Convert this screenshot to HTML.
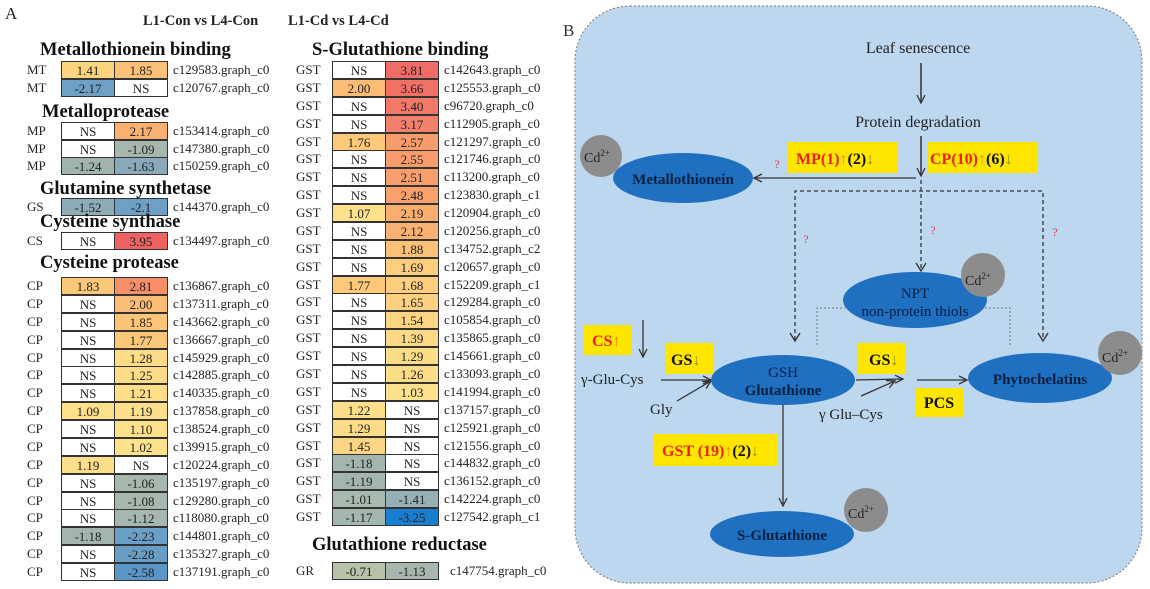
<!DOCTYPE html>
<html><head><meta charset="utf-8"><style>
body{margin:0;width:1150px;height:589px;background:#fff;position:relative;overflow:hidden;font-family:"Liberation Serif",serif;color:#222}
.t{position:absolute;white-space:nowrap}
.h{position:absolute;font-weight:bold;font-size:18.5px;line-height:18px;white-space:nowrap;color:#111}
.r{position:absolute;height:18px;display:flex;font-size:13px;line-height:18px}
.r span{display:block;box-sizing:border-box}
.l{width:34px}
.c{width:54px;text-align:center;border:1px solid #333;margin-right:-1px;background:#fff}
.id{padding-left:6px;color:#222}
.Bt .l{width:36px}
</style></head><body>
<div class="t" style="left:5px;top:4px;font-size:17px">A</div>
<div class="t" style="left:143px;top:13px;font-size:14.5px;font-weight:bold">L1-Con vs L4-Con</div>
<div class="t" style="left:288px;top:13px;font-size:14.5px;font-weight:bold">L1-Cd vs L4-Cd</div>

<div class="h" style="left:40px;top:41px">Metallothionein binding</div>
<div class="r" style="left:27px;top:61px"><span class="l">MT</span><span class="c" style="background:#fcd47e">1.41</span><span class="c" style="background:#fbc178">1.85</span><span class="id">c129583.graph_c0</span></div>
<div class="r" style="left:27px;top:78.5px"><span class="l">MT</span><span class="c" style="background:#6e9fc4">-2.17</span><span class="c">NS</span><span class="id">c120767.graph_c0</span></div>

<div class="h" style="left:42px;top:103px">Metalloprotease</div>
<div class="r" style="left:27px;top:122px"><span class="l">MP</span><span class="c">NS</span><span class="c" style="background:#f9b070">2.17</span><span class="id">c153414.graph_c0</span></div>
<div class="r" style="left:27px;top:139.5px"><span class="l">MP</span><span class="c">NS</span><span class="c" style="background:#a6b7ae">-1.09</span><span class="id">c147380.graph_c0</span></div>
<div class="r" style="left:27px;top:157px"><span class="l">MP</span><span class="c" style="background:#a0b4ae">-1.24</span><span class="c" style="background:#8aaabb">-1.63</span><span class="id">c150259.graph_c0</span></div>

<div class="h" style="left:40px;top:180px">Glutamine synthetase</div>
<div class="r" style="left:27px;top:198px"><span class="l">GS</span><span class="c" style="background:#8eabb8">-1.52</span><span class="c" style="background:#6e9fc4">-2.1</span><span class="id">c144370.graph_c0</span></div>
<div class="h" style="left:40px;top:213px">Cysteine synthase</div>
<div class="r" style="left:27px;top:232px"><span class="l">CS</span><span class="c">NS</span><span class="c" style="background:#ee6262">3.95</span><span class="id">c134497.graph_c0</span></div>
<div class="h" style="left:40px;top:254px">Cysteine protease</div>

<div class="r" style="left:27px;top:277px"><span class="l">CP</span><span class="c" style="background:#fbc87a">1.83</span><span class="c" style="background:#f68f68">2.81</span><span class="id">c136867.graph_c0</span></div>
<div class="r" style="left:27px;top:294.9px"><span class="l">CP</span><span class="c">NS</span><span class="c" style="background:#fbbd76">2.00</span><span class="id">c137311.graph_c0</span></div>
<div class="r" style="left:27px;top:312.8px"><span class="l">CP</span><span class="c">NS</span><span class="c" style="background:#fbc478">1.85</span><span class="id">c143662.graph_c0</span></div>
<div class="r" style="left:27px;top:330.6px"><span class="l">CP</span><span class="c">NS</span><span class="c" style="background:#fbc87a">1.77</span><span class="id">c136667.graph_c0</span></div>
<div class="r" style="left:27px;top:348.5px"><span class="l">CP</span><span class="c">NS</span><span class="c" style="background:#fddc88">1.28</span><span class="id">c145929.graph_c0</span></div>
<div class="r" style="left:27px;top:366.4px"><span class="l">CP</span><span class="c">NS</span><span class="c" style="background:#fddc88">1.25</span><span class="id">c142885.graph_c0</span></div>
<div class="r" style="left:27px;top:384.3px"><span class="l">CP</span><span class="c">NS</span><span class="c" style="background:#fdde8a">1.21</span><span class="id">c140335.graph_c0</span></div>
<div class="r" style="left:27px;top:402.2px"><span class="l">CP</span><span class="c" style="background:#fde08c">1.09</span><span class="c" style="background:#fdde8a">1.19</span><span class="id">c137858.graph_c0</span></div>
<div class="r" style="left:27px;top:420px"><span class="l">CP</span><span class="c">NS</span><span class="c" style="background:#fde08c">1.10</span><span class="id">c138524.graph_c0</span></div>
<div class="r" style="left:27px;top:437.9px"><span class="l">CP</span><span class="c">NS</span><span class="c" style="background:#fde28e">1.02</span><span class="id">c139915.graph_c0</span></div>
<div class="r" style="left:27px;top:455.8px"><span class="l">CP</span><span class="c" style="background:#fdde8a">1.19</span><span class="c">NS</span><span class="id">c120224.graph_c0</span></div>
<div class="r" style="left:27px;top:473.7px"><span class="l">CP</span><span class="c">NS</span><span class="c" style="background:#a7b8ae">-1.06</span><span class="id">c135197.graph_c0</span></div>
<div class="r" style="left:27px;top:491.6px"><span class="l">CP</span><span class="c">NS</span><span class="c" style="background:#a7b8ae">-1.08</span><span class="id">c129280.graph_c0</span></div>
<div class="r" style="left:27px;top:509.4px"><span class="l">CP</span><span class="c">NS</span><span class="c" style="background:#a5b7ae">-1.12</span><span class="id">c118080.graph_c0</span></div>
<div class="r" style="left:27px;top:527.3px"><span class="l">CP</span><span class="c" style="background:#a3b6ae">-1.18</span><span class="c" style="background:#6a9fc6">-2.23</span><span class="id">c144801.graph_c0</span></div>
<div class="r" style="left:27px;top:545.2px"><span class="l">CP</span><span class="c">NS</span><span class="c" style="background:#689dc6">-2.28</span><span class="id">c135327.graph_c0</span></div>
<div class="r" style="left:27px;top:563.1px"><span class="l">CP</span><span class="c">NS</span><span class="c" style="background:#5a97c8">-2.58</span><span class="id">c137191.graph_c0</span></div>

<div class="h" style="left:312px;top:41px">S-Glutathione binding</div>
<div class="r Bt" style="left:296px;top:61px"><span class="l">GST</span><span class="c">NS</span><span class="c" style="background:#f06c66">3.81</span><span class="id">c142643.graph_c0</span></div>
<div class="r Bt" style="left:296px;top:78.9px"><span class="l">GST</span><span class="c" style="background:#fbbd76">2.00</span><span class="c" style="background:#f07066">3.66</span><span class="id">c125553.graph_c0</span></div>
<div class="r Bt" style="left:296px;top:96.8px"><span class="l">GST</span><span class="c">NS</span><span class="c" style="background:#f27868">3.40</span><span class="id">c96720.graph_c0</span></div>
<div class="r Bt" style="left:296px;top:114.6px"><span class="l">GST</span><span class="c">NS</span><span class="c" style="background:#f3806a">3.17</span><span class="id">c112905.graph_c0</span></div>
<div class="r Bt" style="left:296px;top:132.5px"><span class="l">GST</span><span class="c" style="background:#fcc87a">1.76</span><span class="c" style="background:#f89c6c">2.57</span><span class="id">c121297.graph_c0</span></div>
<div class="r Bt" style="left:296px;top:150.4px"><span class="l">GST</span><span class="c">NS</span><span class="c" style="background:#f89c6c">2.55</span><span class="id">c121746.graph_c0</span></div>
<div class="r Bt" style="left:296px;top:168.3px"><span class="l">GST</span><span class="c">NS</span><span class="c" style="background:#f89e6c">2.51</span><span class="id">c113200.graph_c0</span></div>
<div class="r Bt" style="left:296px;top:186.2px"><span class="l">GST</span><span class="c">NS</span><span class="c" style="background:#f9a06c">2.48</span><span class="id">c123830.graph_c1</span></div>
<div class="r Bt" style="left:296px;top:204px"><span class="l">GST</span><span class="c" style="background:#fde28e">1.07</span><span class="c" style="background:#f9ae70">2.19</span><span class="id">c120904.graph_c0</span></div>
<div class="r Bt" style="left:296px;top:221.9px"><span class="l">GST</span><span class="c">NS</span><span class="c" style="background:#f9b272">2.12</span><span class="id">c120256.graph_c0</span></div>
<div class="r Bt" style="left:296px;top:239.8px"><span class="l">GST</span><span class="c">NS</span><span class="c" style="background:#fbc278">1.88</span><span class="id">c134752.graph_c2</span></div>
<div class="r Bt" style="left:296px;top:257.7px"><span class="l">GST</span><span class="c">NS</span><span class="c" style="background:#fcce7e">1.69</span><span class="id">c120657.graph_c0</span></div>
<div class="r Bt" style="left:296px;top:275.6px"><span class="l">GST</span><span class="c" style="background:#fcc87a">1.77</span><span class="c" style="background:#fcce7e">1.68</span><span class="id">c152209.graph_c1</span></div>
<div class="r Bt" style="left:296px;top:293.4px"><span class="l">GST</span><span class="c">NS</span><span class="c" style="background:#fcd080">1.65</span><span class="id">c129284.graph_c0</span></div>
<div class="r Bt" style="left:296px;top:311.3px"><span class="l">GST</span><span class="c">NS</span><span class="c" style="background:#fcd482">1.54</span><span class="id">c105854.graph_c0</span></div>
<div class="r Bt" style="left:296px;top:329.2px"><span class="l">GST</span><span class="c">NS</span><span class="c" style="background:#fdd886">1.39</span><span class="id">c135865.graph_c0</span></div>
<div class="r Bt" style="left:296px;top:347.1px"><span class="l">GST</span><span class="c">NS</span><span class="c" style="background:#fddc88">1.29</span><span class="id">c145661.graph_c0</span></div>
<div class="r Bt" style="left:296px;top:365px"><span class="l">GST</span><span class="c">NS</span><span class="c" style="background:#fddc88">1.26</span><span class="id">c133093.graph_c0</span></div>
<div class="r Bt" style="left:296px;top:382.8px"><span class="l">GST</span><span class="c">NS</span><span class="c" style="background:#fde28e">1.03</span><span class="id">c141994.graph_c0</span></div>
<div class="r Bt" style="left:296px;top:400.7px"><span class="l">GST</span><span class="c" style="background:#fdde8a">1.22</span><span class="c">NS</span><span class="id">c137157.graph_c0</span></div>
<div class="r Bt" style="left:296px;top:418.6px"><span class="l">GST</span><span class="c" style="background:#fddc88">1.29</span><span class="c">NS</span><span class="id">c125921.graph_c0</span></div>
<div class="r Bt" style="left:296px;top:436.5px"><span class="l">GST</span><span class="c" style="background:#fcd684">1.45</span><span class="c">NS</span><span class="id">c121556.graph_c0</span></div>
<div class="r Bt" style="left:296px;top:454.4px"><span class="l">GST</span><span class="c" style="background:#a3b6ae">-1.18</span><span class="c">NS</span><span class="id">c144832.graph_c0</span></div>
<div class="r Bt" style="left:296px;top:472.2px"><span class="l">GST</span><span class="c" style="background:#a3b6ae">-1.19</span><span class="c">NS</span><span class="id">c136152.graph_c0</span></div>
<div class="r Bt" style="left:296px;top:490.1px"><span class="l">GST</span><span class="c" style="background:#a8b9ae">-1.01</span><span class="c" style="background:#97b0b6">-1.41</span><span class="id">c142224.graph_c0</span></div>
<div class="r Bt" style="left:296px;top:508px"><span class="l">GST</span><span class="c" style="background:#a4b7ae">-1.17</span><span class="c" style="background:#1a7ed0">-3.25</span><span class="id">c127542.graph_c1</span></div>

<div class="h" style="left:312px;top:536px">Glutathione reductase</div>
<div class="r Bt" style="left:296px;top:562px"><span class="l">GR</span><span class="c" style="background:#b8c2a8">-0.71</span><span class="c" style="background:#a6b8ae">-1.13</span><span class="id" style="padding-left:12px">c147754.graph_c0</span></div>

<svg style="position:absolute;left:0;top:0" width="1150" height="589" font-family="Liberation Serif, serif">
<defs><marker id="ah" markerWidth="10" markerHeight="10" refX="9" refY="5" orient="auto" markerUnits="userSpaceOnUse"><path d="M1,1 L9,5 L1,9" fill="none" stroke="#333" stroke-width="1.3"/></marker></defs>
<text x="563" y="36" font-size="17" fill="#333">B</text>
<rect x="575" y="6" width="567" height="577" rx="55" fill="#bdd7ee" stroke="#777" stroke-dasharray="2,2"/>
<text x="918" y="53" font-size="16" text-anchor="middle" fill="#222">Leaf senescence</text>
<line x1="921" y1="63" x2="921" y2="103" stroke="#333" stroke-width="1.5" marker-end="url(#ah)"/>
<text x="918" y="127" font-size="16" text-anchor="middle" fill="#222">Protein degradation</text>
<line x1="921" y1="136" x2="921" y2="176" stroke="#333" stroke-width="1.5" marker-end="url(#ah)"/>
<rect x="788" y="142" width="110" height="31" fill="#ffe600"/>
<text x="796" y="164" font-size="16" font-weight="bold"><tspan fill="#e8231a">MP(1)</tspan><tspan fill="#e88a00">↑</tspan><tspan fill="#111">(2)</tspan><tspan fill="#888a10">↓</tspan></text>
<rect x="927" y="142" width="111" height="31" fill="#ffe600"/>
<text x="930" y="164" font-size="16" font-weight="bold"><tspan fill="#e8231a">CP(10)</tspan><tspan fill="#e88a00">↑</tspan><tspan fill="#111">(6)</tspan><tspan fill="#888a10">↓</tspan></text>
<line x1="916" y1="178" x2="754" y2="178" stroke="#333" stroke-width="1.2" marker-end="url(#ah)"/>
<text x="777" y="168" font-size="12" fill="#e03a5a" text-anchor="middle">?</text>
<ellipse cx="683" cy="178" rx="70" ry="25" fill="#1f70c1"/>
<circle cx="601" cy="156" r="21" fill="#8c8c8c"/>
<text x="584" y="162" font-size="14" fill="#222">Cd<tspan font-size="9" dy="-6">2+</tspan></text>
<text x="683" y="184" font-size="15" font-weight="bold" text-anchor="middle" fill="#0a1f40">Metallothionein</text>
<g stroke="#333" stroke-width="1.3" stroke-dasharray="4,3" fill="none">
<polyline points="795,340 795,191 1043,191 1043,340"/>
<line x1="921" y1="180" x2="921" y2="270"/>
</g>
<path d="M790,333 L795,341 L800,333 M916,263 L921,271 L926,263 M1038,333 L1043,341 L1048,333" stroke="#333" fill="none" stroke-width="1.3"/>
<text x="806" y="243" font-size="12" fill="#e03a5a" text-anchor="middle">?</text>
<text x="933" y="234" font-size="12" fill="#e03a5a" text-anchor="middle">?</text>
<text x="1055" y="236" font-size="12" fill="#e03a5a" text-anchor="middle">?</text>
<polyline points="817,345 817,308 845,308" fill="none" stroke="#777" stroke-dasharray="2,2"/>
<polyline points="985,308 1010,308 1010,345" fill="none" stroke="#777" stroke-dasharray="2,2"/>
<ellipse cx="915" cy="300" rx="72" ry="28" fill="#1f70c1"/>
<circle cx="983" cy="275" r="22" fill="#8c8c8c"/>
<text x="965" y="285" font-size="14" fill="#222">Cd<tspan font-size="9" dy="-6">2+</tspan></text>
<text x="915" y="298" font-size="15" text-anchor="middle" fill="#0a1f40">NPT</text>
<text x="915" y="316" font-size="15" text-anchor="middle" fill="#0a1f40">non-protein thiols</text>
<rect x="584" y="325" width="47" height="30" fill="#ffe600"/>
<text x="592" y="346" font-size="16" font-weight="bold"><tspan fill="#e8231a">CS</tspan><tspan fill="#e88a00">↑</tspan></text>
<line x1="643" y1="320" x2="643" y2="357" stroke="#333" stroke-width="1.3" marker-end="url(#ah)"/>
<text x="581" y="384" font-size="15" fill="#222">γ-Glu-Cys</text>
<line x1="661" y1="380" x2="711" y2="380" stroke="#333" stroke-width="1.3" marker-end="url(#ah)"/>
<rect x="666" y="343" width="47" height="31" fill="#ffe600"/>
<text x="671" y="365" font-size="16" font-weight="bold"><tspan fill="#111">GS</tspan><tspan fill="#888a10">↓</tspan></text>
<text x="650" y="414" font-size="15" fill="#222">Gly</text>
<line x1="677" y1="401" x2="711" y2="381" stroke="#333" stroke-width="1.3" marker-end="url(#ah)"/>
<ellipse cx="783" cy="380" rx="72" ry="25" fill="#1f70c1"/>
<text x="783" y="377" font-size="15" text-anchor="middle" fill="#0a1f40">GSH</text>
<text x="783" y="395" font-size="15" font-weight="bold" text-anchor="middle" fill="#0a1f40">Glutathione</text>
<rect x="857" y="343" width="48" height="31" fill="#ffe600"/>
<text x="869" y="365" font-size="16" font-weight="bold"><tspan fill="#111">GS</tspan><tspan fill="#888a10">↓</tspan></text>
<line x1="856" y1="380" x2="903" y2="379" stroke="#333" stroke-width="1.3" marker-end="url(#ah)"/>
<line x1="861" y1="396" x2="895" y2="381" stroke="#333" stroke-width="1.3" marker-end="url(#ah)"/>
<text x="819" y="419" font-size="15" fill="#222">γ Glu–Cys</text>
<line x1="917" y1="380" x2="967" y2="380" stroke="#333" stroke-width="1.3" marker-end="url(#ah)"/>
<rect x="915" y="388" width="48" height="29" fill="#ffe600"/>
<text x="939" y="408" font-size="16" font-weight="bold" text-anchor="middle" fill="#111">PCS</text>
<ellipse cx="1040" cy="378" rx="72" ry="25" fill="#1f70c1"/>
<circle cx="1120" cy="353" r="22" fill="#8c8c8c"/>
<text x="1102" y="362" font-size="14" fill="#222">Cd<tspan font-size="9" dy="-6">2+</tspan></text>
<text x="1040" y="384" font-size="15" font-weight="bold" text-anchor="middle" fill="#0a1f40">Phytochelatins</text>
<line x1="783" y1="405" x2="783" y2="506" stroke="#333" stroke-width="1.3" marker-end="url(#ah)"/>
<rect x="654" y="434" width="123" height="32" fill="#ffe600"/>
<text x="662" y="456" font-size="16" font-weight="bold"><tspan fill="#e8231a">GST (19)</tspan><tspan fill="#e88a00">↑</tspan><tspan fill="#111">(2)</tspan><tspan fill="#888a10">↓</tspan></text>
<ellipse cx="782" cy="534" rx="72" ry="23" fill="#1f70c1"/>
<circle cx="866" cy="510" r="22" fill="#8c8c8c"/>
<text x="848" y="518" font-size="14" fill="#222">Cd<tspan font-size="9" dy="-6">2+</tspan></text>
<text x="782" y="540" font-size="15" font-weight="bold" text-anchor="middle" fill="#0a1f40">S-Glutathione</text>
</svg>
</body></html>
